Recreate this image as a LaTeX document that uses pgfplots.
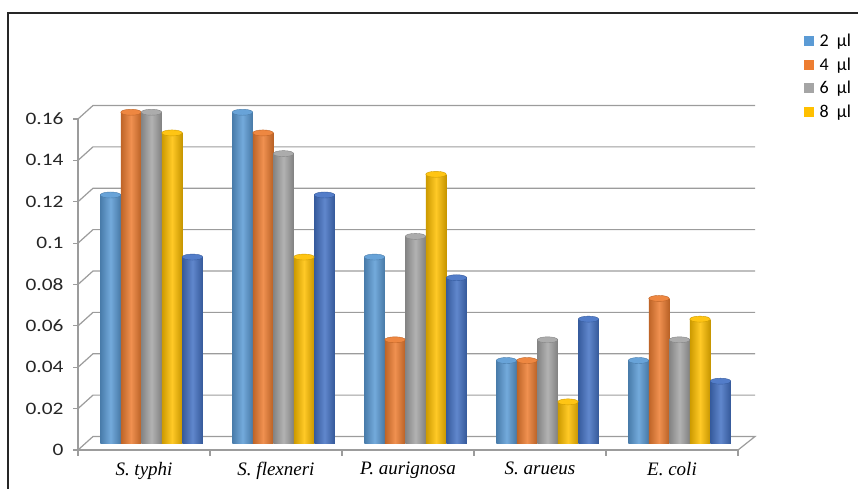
\documentclass[border=0pt]{standalone}
\usepackage{pgfplots}
\pgfplotsset{compat=1.18}
\usetikzlibrary{shapes.geometric}
\usepackage{fontspec}
\setmainfont{Carlito}
\newfontfamily\tickfont[FakeStretch=1.22]{Carlito}
\newfontfamily\catfont{Liberation Serif}

\definecolor{c1}{HTML}{5B9BD5}
\definecolor{c2}{HTML}{ED7D31}
\definecolor{c3}{HTML}{A5A5A5}
\definecolor{c4}{HTML}{FFC000}
\definecolor{c5}{HTML}{4472C4}
\definecolor{gridc}{HTML}{9C9C9C}

\pgfplotsset{
  cyl/.style={draw=none, left color=#1!80!black, right color=#1!78!black, middle color=#1!85!white,
    nodes near coords={}, every node near coord/.style={ellipse, minimum width=20.5pt, minimum height=6pt,
    inner sep=0pt, anchor=center, fill=#1!92!white, draw=#1!80!black, line width=0.4pt}},
}
% one cylinder: colour, shift, category, value
\newcommand\cyl[4]{\addplot[cyl=#1, bar shift=#2, every node near coord/.append style={xshift=#2}] coordinates {(#3,#4)};}

\begin{document}
\begin{tikzpicture}[x=1pt,y=1pt]
% back wall gridlines and side wall diagonals
\foreach \i in {1,...,8}{
  \pgfmathsetmacro\yf{39+41.375*\i}
  \draw[gridc, line width=1.2pt] (78,\yf) -- (93,\yf+13.5) -- (755,\yf+13.5);
}
% floor
\draw[gridc, line width=1.2pt] (78,39) -- (93,52.5) -- (755,52.5) -- (738,39);

% front axis: ticks, labels, legend
\begin{axis}[
  at={(78pt,39pt)}, anchor=south west, scale only axis,
  width=660pt, height=331pt,
  xmin=-0.5, xmax=4.5, ymin=0, ymax=0.16,
  axis lines=left,
  axis line style={-, draw=gridc, line width=1.2pt},
  ytick={0,0.02,0.04,0.06,0.08,0.1,0.12,0.14,0.16},
  yticklabel style={font=\tickfont\fontsize{17.5}{17.5}\selectfont, text=black!85, xshift=-6pt},
  /pgf/number format/assume math mode=true,
  /pgf/number format/fixed,
  /pgf/number format/precision=2,
  ytick align=outside,
  ytick style={draw=gridc, line width=1.2pt},
  major tick length=5pt,
  xtick={0,1,2,3,4},
  xticklabels={{S. typhi},{S. flexneri},{P. aurignosa},{S. arueus},{E. coli}},
  xticklabel style={font=\catfont\itshape\fontsize{19}{19}\selectfont, text=black, yshift=-6pt},
  xtick style={draw=none},
  extra x ticks={-0.5,0.5,1.5,2.5,3.5,4.5},
  extra x tick labels={},
  extra x tick style={xtick style={draw=gridc, line width=1.2pt}, tick align=outside, major tick length=6pt},
  legend style={at={(axis description cs:1.100,1.262)}, anchor=north west, draw=none, fill=none,
    font=\fontsize{18}{18}\selectfont, row sep=5.5pt, inner xsep=0pt, inner ysep=0pt,
    nodes={inner xsep=5.5pt}},
  legend cell align=left,
  legend image code/.code={\fill[#1] (0pt,-5pt) rectangle (10pt,5pt);},
]
\addlegendimage{fill=c1, draw=none}
\addlegendentry{2~~µl}
\addlegendimage{fill=c2, draw=none}
\addlegendentry{4~~µl}
\addlegendimage{fill=c3, draw=none}
\addlegendentry{6~~µl}
\addlegendimage{fill=c4, draw=none}
\addlegendentry{8~~µl}
\end{axis}

% bars at middle depth
\begin{axis}[
  at={(85.5pt,45.75pt)}, anchor=south west, scale only axis,
  width=660pt, height=331pt,
  xmin=-0.5, xmax=4.5, ymin=0, ymax=0.16,
  hide axis, clip=false,
  ybar=0pt, bar width=20.5pt,
]
% S. typhi
\cyl{c1}{-41pt}{0}{0.12}
\cyl{c2}{-20.5pt}{0}{0.16}
\cyl{c3}{0pt}{0}{0.16}
\cyl{c4}{20.5pt}{0}{0.15}
\cyl{c5}{41pt}{0}{0.09}
% S. flexneri
\cyl{c1}{-41pt}{1}{0.16}
\cyl{c2}{-20.5pt}{1}{0.15}
\cyl{c3}{0pt}{1}{0.14}
\cyl{c4}{20.5pt}{1}{0.09}
\cyl{c5}{41pt}{1}{0.12}
% P. aurignosa
\cyl{c1}{-41pt}{2}{0.09}
\cyl{c2}{-20.5pt}{2}{0.05}
\cyl{c3}{0pt}{2}{0.10}
\cyl{c4}{20.5pt}{2}{0.13}
\cyl{c5}{41pt}{2}{0.08}
% S. arueus
\cyl{c1}{-41pt}{3}{0.04}
\cyl{c2}{-20.5pt}{3}{0.04}
\cyl{c3}{0pt}{3}{0.05}
\cyl{c4}{20.5pt}{3}{0.02}
\cyl{c5}{41pt}{3}{0.06}
% E. coli
\cyl{c1}{-41pt}{4}{0.04}
\cyl{c2}{-20.5pt}{4}{0.07}
\cyl{c3}{0pt}{4}{0.05}
\cyl{c4}{20.5pt}{4}{0.06}
\cyl{c5}{41pt}{4}{0.03}
\end{axis}

% outer frame
\draw[line width=1.4pt, black!85] (8,0) -- (8,476) -- (858,476);
\pgfresetboundingbox
\path (0,0) rectangle (858,489);
\end{tikzpicture}
\end{document}
